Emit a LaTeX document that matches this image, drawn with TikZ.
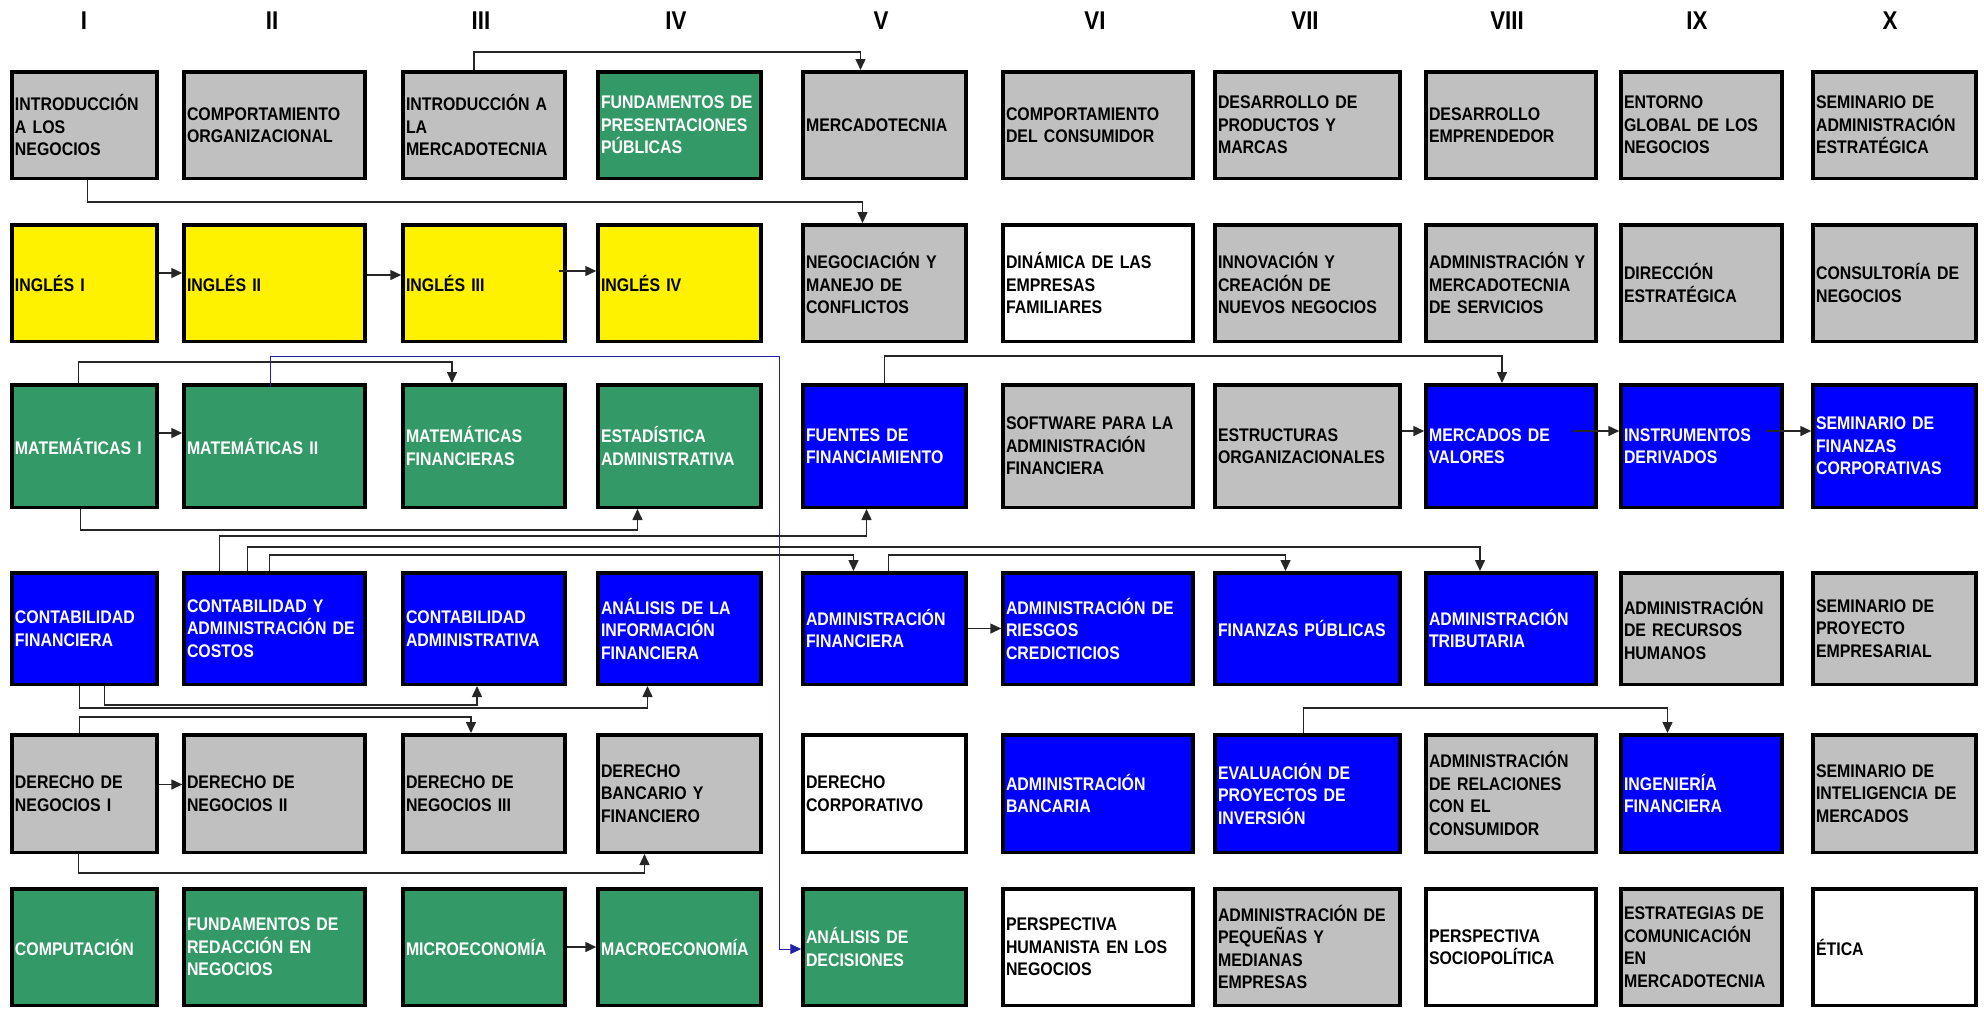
\documentclass[tikz,border=0pt]{standalone}
\usepackage{fontspec}
\setmainfont{Liberation Sans}[FakeStretch=0.87]
\usepackage{tikz}
\usetikzlibrary{arrows.meta, positioning}

\definecolor{grisc}{HTML}{C0C0C0}
\definecolor{verdec}{HTML}{339966}
\definecolor{azulc}{HTML}{0000FF}
\definecolor{lineazul}{HTML}{2020A8}

\tikzset{
  curso/.style={draw=black, line width=0.7mm, inner xsep=0.6mm, inner ysep=0pt, align=left,
    font=\fontsize{10.4}{12.8}\selectfont\bfseries},
  grisbox/.style={curso, fill=grisc},
  verdebox/.style={curso, fill=verdec, text=white},
  azulbox/.style={curso, fill=azulc, text=white},
  amarbox/.style={curso, fill=yellow},
  blancobox/.style={curso, fill=white},
  colI/.style={text width=27.8mm}, colII/.style={text width=35mm},
  colIII/.style={text width=31.2mm}, colIV/.style={text width=31.4mm},
  colV/.style={text width=31.4mm}, colVI/.style={text width=36.8mm},
  colVII/.style={text width=35.8mm}, colVIII/.style={text width=32.8mm},
  colIX/.style={text width=31mm}, colX/.style={text width=31.4mm},
  fila1/.style={minimum height=21.3mm}, fila2/.style={minimum height=23.3mm},
  fila3/.style={minimum height=24.5mm}, fila4/.style={minimum height=22.3mm},
  fila5/.style={minimum height=23.5mm}, fila6/.style={minimum height=23.3mm},
  numero/.style={font=\fontsize{14.6}{16}\selectfont\bfseries, inner sep=0pt},
  conn/.style={draw=black!85, line width=0.3mm, -{Triangle[length=2.2mm,width=2mm]}},
  connazul/.style={draw=lineazul, line width=0.2mm, -{Triangle[length=2.2mm,width=2mm]}}
}

\begin{document}
\begin{tikzpicture}[x=0.2mm, y=-0.2mm]
    \useasboundingbox (0,0) rectangle (1984,1008);
    \node[numero] (hI) at (84,21) {I};
    \node[numero] (hII) at (272,21) {II};
    \node[numero] (hIII) at (481,21) {III};
    \node[numero] (hIV) at (676,21) {IV};
    \node[numero] (hV) at (881,21) {V};
    \node[numero] (hVI) at (1095,21) {VI};
    \node[numero] (hVII) at (1305,21) {VII};
    \node[numero] (hVIII) at (1507,21) {VIII};
    \node[numero] (hIX) at (1697,21) {IX};
    \node[numero] (hX) at (1890,21) {X};
    % fila 1
    \node[grisbox, colI, fila1] (intneg) at (84.5,125) {INTRODUCCIÓN\\A LOS\\NEGOCIOS};
    \node[grisbox, colII, fila1] (comport) at (274.5,125) {COMPORTAMIENTO\\ORGANIZACIONAL};
    \node[grisbox, colIII, fila1] (intmerc) at (484,125) {INTRODUCCIÓN A\\LA\\MERCADOTECNIA};
    \node[verdebox, colIV, fila1] (fundpres) at (679.5,125) {FUNDAMENTOS DE\\PRESENTACIONES\\PÚBLICAS};
    \node[grisbox, colV, fila1] (merc) at (884.5,125) {MERCADOTECNIA};
    \node[grisbox, colVI, fila1] (compcons) at (1098,125) {COMPORTAMIENTO\\DEL CONSUMIDOR};
    \node[grisbox, colVII, fila1] (desprod) at (1307.5,125) {DESARROLLO DE\\PRODUCTOS Y\\MARCAS};
    \node[grisbox, colVIII, fila1] (desemp) at (1511,125) {DESARROLLO\\EMPRENDEDOR};
    \node[grisbox, colIX, fila1] (entorno) at (1701.5,125) {ENTORNO\\GLOBAL DE LOS\\NEGOCIOS};
    \node[grisbox, colX, fila1] (semadm) at (1894.5,125) {SEMINARIO DE\\ADMINISTRACIÓN\\ESTRATÉGICA};
    % fila 2
    \node[amarbox, colI, fila2] (ing1) at (84.5,283) {INGLÉS I};
    \node[amarbox, colII, fila2] (ing2) at (274.5,283) {INGLÉS II};
    \node[amarbox, colIII, fila2] (ing3) at (484,283) {INGLÉS III};
    \node[amarbox, colIV, fila2] (ing4) at (679.5,283) {INGLÉS IV};
    \node[grisbox, colV, fila2] (negoc) at (884.5,283) {NEGOCIACIÓN Y\\MANEJO DE\\CONFLICTOS};
    \node[blancobox, colVI, fila2] (dinfam) at (1098,283) {DINÁMICA DE LAS\\EMPRESAS\\FAMILIARES};
    \node[grisbox, colVII, fila2] (innov) at (1307.5,283) {INNOVACIÓN Y\\CREACIÓN DE\\NUEVOS NEGOCIOS};
    \node[grisbox, colVIII, fila2] (admserv) at (1511,283) {ADMINISTRACIÓN Y\\MERCADOTECNIA\\DE SERVICIOS};
    \node[grisbox, colIX, fila2] (direst) at (1701.5,283) {DIRECCIÓN\\ESTRATÉGICA};
    \node[grisbox, colX, fila2] (consult) at (1894.5,283) {CONSULTORÍA DE\\NEGOCIOS};
    % fila 3
    \node[verdebox, colI, fila3] (mat1) at (84.5,446) {MATEMÁTICAS I};
    \node[verdebox, colII, fila3] (mat2) at (274.5,446) {MATEMÁTICAS II};
    \node[verdebox, colIII, fila3] (matfin) at (484,446) {MATEMÁTICAS\\FINANCIERAS};
    \node[verdebox, colIV, fila3] (estad) at (679.5,446) {ESTADÍSTICA\\ADMINISTRATIVA};
    \node[azulbox, colV, fila3] (fuentes) at (884.5,446) {FUENTES DE\\FINANCIAMIENTO};
    \node[grisbox, colVI, fila3] (software) at (1098,446) {SOFTWARE PARA LA\\ADMINISTRACIÓN\\FINANCIERA};
    \node[grisbox, colVII, fila3] (estruct) at (1307.5,446) {ESTRUCTURAS\\ORGANIZACIONALES};
    \node[azulbox, colVIII, fila3] (mercval) at (1511,446) {MERCADOS DE\\VALORES};
    \node[azulbox, colIX, fila3] (instder) at (1701.5,446) {INSTRUMENTOS\\DERIVADOS};
    \node[azulbox, colX, fila3] (semfin) at (1894.5,446) {SEMINARIO DE\\FINANZAS\\CORPORATIVAS};
    % fila 4
    \node[azulbox, colI, fila4] (contfin) at (84.5,628.5) {CONTABILIDAD\\FINANCIERA};
    \node[azulbox, colII, fila4] (contcos) at (274.5,628.5) {CONTABILIDAD Y\\ADMINISTRACIÓN DE\\COSTOS};
    \node[azulbox, colIII, fila4] (contadm) at (484,628.5) {CONTABILIDAD\\ADMINISTRATIVA};
    \node[azulbox, colIV, fila4] (anainf) at (679.5,628.5) {ANÁLISIS DE LA\\INFORMACIÓN\\FINANCIERA};
    \node[azulbox, colV, fila4] (admfin) at (884.5,628.5) {ADMINISTRACIÓN\\FINANCIERA};
    \node[azulbox, colVI, fila4] (riesgos) at (1098,628.5) {ADMINISTRACIÓN DE\\RIESGOS\\CREDICTICIOS};
    \node[azulbox, colVII, fila4] (finpub) at (1307.5,628.5) {FINANZAS PÚBLICAS};
    \node[azulbox, colVIII, fila4] (admtrib) at (1511,628.5) {ADMINISTRACIÓN\\TRIBUTARIA};
    \node[grisbox, colIX, fila4] (rrhh) at (1701.5,628.5) {ADMINISTRACIÓN\\DE RECURSOS\\HUMANOS};
    \node[grisbox, colX, fila4] (semproy) at (1894.5,628.5) {SEMINARIO DE\\PROYECTO\\EMPRESARIAL};
    % fila 5
    \node[grisbox, colI, fila5] (der1) at (84.5,793.5) {DERECHO DE\\NEGOCIOS I};
    \node[grisbox, colII, fila5] (der2) at (274.5,793.5) {DERECHO DE\\NEGOCIOS II};
    \node[grisbox, colIII, fila5] (der3) at (484,793.5) {DERECHO DE\\NEGOCIOS III};
    \node[grisbox, colIV, fila5] (derban) at (679.5,793.5) {DERECHO\\BANCARIO Y\\FINANCIERO};
    \node[blancobox, colV, fila5] (dercorp) at (884.5,793.5) {DERECHO\\CORPORATIVO};
    \node[azulbox, colVI, fila5] (admban) at (1098,793.5) {ADMINISTRACIÓN\\BANCARIA};
    \node[azulbox, colVII, fila5] (evalproy) at (1307.5,793.5) {EVALUACIÓN DE\\PROYECTOS DE\\INVERSIÓN};
    \node[grisbox, colVIII, fila5] (relcons) at (1511,793.5) {ADMINISTRACIÓN\\DE RELACIONES\\CON EL\\CONSUMIDOR};
    \node[azulbox, colIX, fila5] (ingfin) at (1701.5,793.5) {INGENIERÍA\\FINANCIERA};
    \node[grisbox, colX, fila5] (semint) at (1894.5,793.5) {SEMINARIO DE\\INTELIGENCIA DE\\MERCADOS};
    % fila 6
    \node[verdebox, colI, fila6] (comput) at (84.5,947) {COMPUTACIÓN};
    \node[verdebox, colII, fila6] (redacc) at (274.5,947) {FUNDAMENTOS DE\\REDACCIÓN EN\\NEGOCIOS};
    \node[verdebox, colIII, fila6] (micro) at (484,947) {MICROECONOMÍA};
    \node[verdebox, colIV, fila6] (macro) at (679.5,947) {MACROECONOMÍA};
    \node[verdebox, colV, fila6] (anadec) at (884.5,947) {ANÁLISIS DE\\DECISIONES};
    \node[blancobox, colVI, fila6] (humanista) at (1098,947) {PERSPECTIVA\\HUMANISTA EN LOS\\NEGOCIOS};
    \node[grisbox, colVII, fila6] (pymes) at (1307.5,947) {ADMINISTRACIÓN DE\\PEQUEÑAS Y\\MEDIANAS\\EMPRESAS};
    \node[blancobox, colVIII, fila6] (sociopol) at (1511,947) {PERSPECTIVA\\SOCIOPOLÍTICA};
    \node[grisbox, colIX, fila6] (comunic) at (1701.5,947) {ESTRATEGIAS DE\\COMUNICACIÓN\\EN\\MERCADOTECNIA};
    \node[blancobox, colX, fila6] (etica) at (1894.5,947) {ÉTICA};
    % seriaciones
    \draw[conn] ([shift={(-10,0)}]intmerc.north) -- ++(0,-18) -| ([shift={(-24,0)}]merc.north);
    \draw[conn] ([shift={(3,0)}]intneg.south) -- ++(0,22) -| ([shift={(-22,0)}]negoc.north);
    \draw[conn] ([shift={(0,-10)}]ing1.east) -- ([shift={(0,-10)}]ing2.west);
    \draw[conn] ([shift={(0,-8)}]ing2.east) -- ([shift={(0,-8)}]ing3.west);
    \draw[conn] ([shift={(-8,-12)}]ing3.east) -- ([shift={(0,-12)}]ing4.west);
    \draw[conn] ([shift={(-6,0)}]mat1.north) -- ++(0,-21) -| ([shift={(-32,0)}]matfin.north);
    \draw[conn] ([shift={(0,-13)}]mat1.east) -- ([shift={(0,-13)}]mat2.west);
    \draw[conn] ([shift={(-4,0)}]mat1.south) -- ++(0,21) -| ([shift={(-42,0)}]estad.south);
    \draw[connazul] ([shift={(-4,4)}]mat2.north) -- ++(0,-31) -| ([shift={(-22,2)}]anadec.west) -- ([shift={(0,2)}]anadec.west);
    \draw[conn] (fuentes.north) -- ++(0,-27) -| ([shift={(-9,0)}]mercval.north);
    \draw[conn] ([shift={(0,-15)}]estruct.east) -- ([shift={(0,-15)}]mercval.west);
    \draw[conn] ([shift={(-25,-15)}]mercval.east) -- ([shift={(0,-15)}]instder.west);
    \draw[conn] ([shift={(-18,-15)}]instder.east) -- ([shift={(0,-15)}]semfin.west);
    \draw[conn] ([shift={(-55,0)}]contcos.north) -- ++(0,-35) -| ([shift={(-18,0)}]fuentes.south);
    \draw[conn] ([shift={(-27,0)}]contcos.north) -- ++(0,-24) -| ([shift={(-31,0)}]admtrib.north);
    \draw[conn] ([shift={(-5,0)}]contcos.north) -- ++(0,-16) -| ([shift={(-31,0)}]admfin.north);
    \draw[conn] ([shift={(4,0)}]admfin.north) -- ++(0,-16) -| ([shift={(-22,0)}]finpub.north);
    \draw[conn] (admfin.east) -- (riesgos.west);
    \draw[conn] ([shift={(-5,0)}]contfin.south) -- ++(0,22) -| ([shift={(-32,0)}]anainf.south);
    \draw[conn] ([shift={(20,0)}]contfin.south) -- ++(0,19) -| ([shift={(-7,0)}]contadm.south);
    \draw[conn] ([shift={(-5,0)}]der1.north) -- ++(0,-16) -| ([shift={(-13,0)}]der3.north);
    \draw[conn] ([shift={(0,-9)}]der1.east) -- ([shift={(0,-9)}]der2.west);
    \draw[conn] ([shift={(-6,0)}]der1.south) -- ++(0,19) -| ([shift={(-35,0)}]derban.south);
    \draw[conn] (micro.east) -- (macro.west);
    \draw[conn] ([shift={(-4,0)}]evalproy.north) -- ++(0,-25) -| ([shift={(-34,0)}]ingfin.north);
\end{tikzpicture}
\end{document}
